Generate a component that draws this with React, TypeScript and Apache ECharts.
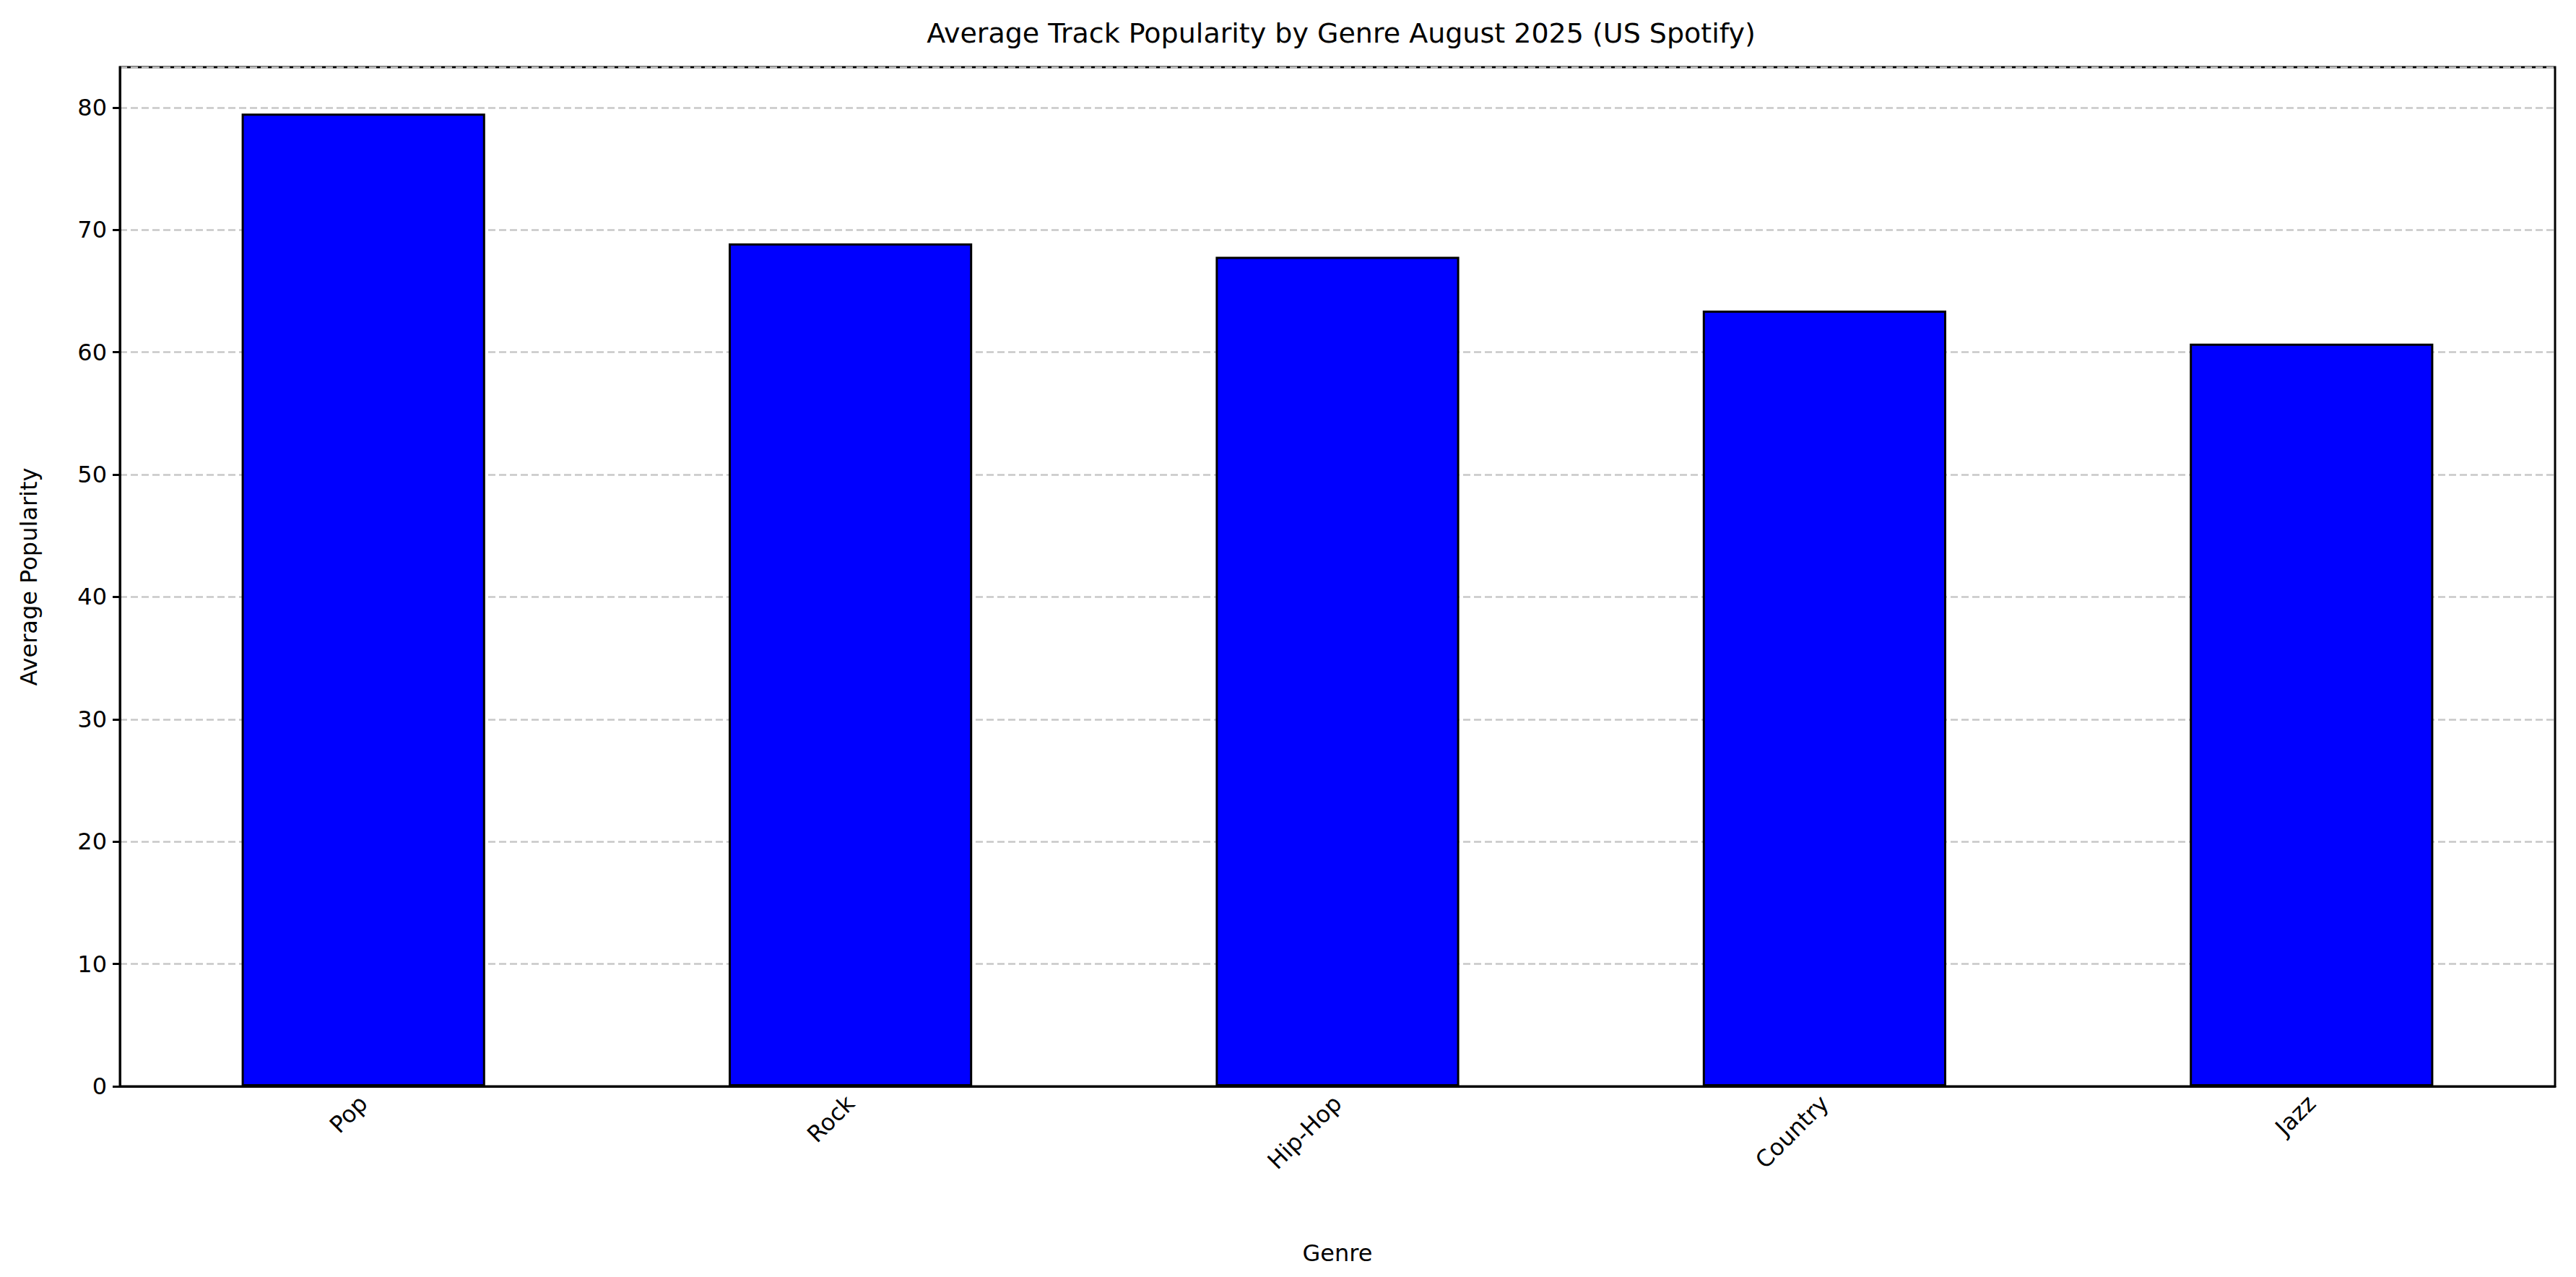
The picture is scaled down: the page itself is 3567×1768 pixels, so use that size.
import React, { useEffect, useRef } from "react";
import * as echarts from "echarts";

const categories = ["Pop", "Rock", "Hip-Hop", "Country", "Jazz"];
const values = [79.5, 68.9, 67.8, 63.4, 60.7];
const yTicks = [0, 10, 20, 30, 40, 50, 60, 70, 80];

export default function App() {
  const ref = useRef<HTMLDivElement>(null);
  useEffect(() => {
    document.body.style.margin = "0";
    const chart = echarts.init(ref.current!, null, { renderer: "svg" });
    const font = "DejaVu Sans";
    chart.setOption({
      animation: false,
      backgroundColor: "#fff",
      textStyle: { fontFamily: font },
      title: {
        text: "Average Track Popularity by Genre August 2025 (US Spotify)",
        left: 1852, top: 22, textAlign: "center",
        textStyle: { fontFamily: font, fontSize: 38, fontWeight: "normal", color: "#000" },
      },
      grid: { left: 166, right: 29, top: 93, bottom: 264, show: true, borderColor: "#000", borderWidth: 3, backgroundColor: "transparent" },
      xAxis: {
        type: "category", data: categories,
        name: "Genre", nameLocation: "middle", nameGap: 215,
        nameTextStyle: { fontFamily: font, fontSize: 32, color: "#000" },
        axisLine: { lineStyle: { color: "#000", width: 3 } },
        axisTick: { alignWithLabel: true, length: 10, lineStyle: { color: "#000", width: 3 } },
        axisLabel: { rotate: 45, fontFamily: font, fontSize: 32, color: "#000", margin: 18 },
      },
      yAxis: {
        type: "value", min: 0, max: 83.3, interval: 10,
        name: "Average Popularity", nameLocation: "middle", nameGap: 110,
        nameTextStyle: { fontFamily: font, fontSize: 32, color: "#000" },
        axisLine: { show: true, lineStyle: { color: "#000", width: 3 } },
        axisTick: { show: true, length: 10, lineStyle: { color: "#000", width: 3 } },
        axisLabel: {
          fontFamily: font, fontSize: 32, color: "#000", margin: 18, showMaxLabel: false,
          formatter: (v: number) => (yTicks.includes(v) ? String(v) : ""),
        },
        splitLine: { show: true, lineStyle: { color: "#c8c8c8", type: [10, 5], width: 2.5 } },
      },
      series: [
        {
          type: "bar", data: values, barWidth: "50%",
          itemStyle: { color: "#0000ff", borderColor: "#000", borderWidth: 3 },
        },
      ],
    });
    return () => chart.dispose();
  }, []);
  return <div ref={ref} style={{ width: 3567, height: 1768 }} />;
}
